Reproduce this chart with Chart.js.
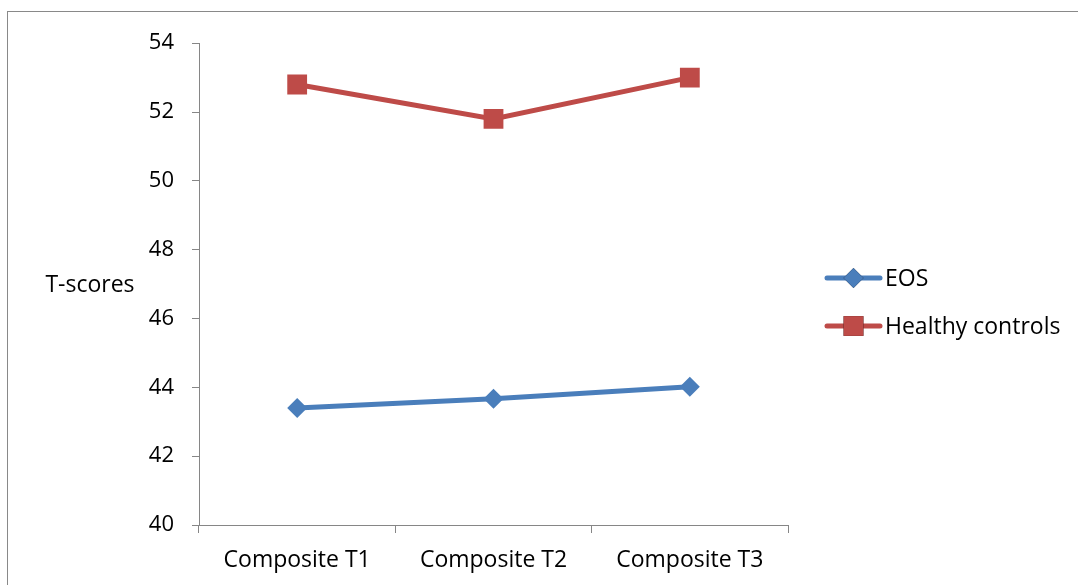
<!DOCTYPE html>
<html>
<head>
<meta charset="utf-8">
<script src="https://cdn.jsdelivr.net/npm/chart.js@4.4.0/dist/chart.umd.min.js"></script>
<style>
  body { margin: 0; background: #fff; overflow: hidden; }
  #box {
    position: absolute; left: 7px; top: 11px;
    width: 1070px; height: 590px;
    border: 1px solid #898989; background: #fff;
  }
</style>
</head>
<body>
<div id="box"><canvas id="chart"></canvas></div>
<script>
// Données du graphique
const categories = ['Composite T1', 'Composite T2', 'Composite T3'];
const eosValues = [43.4, 43.67, 44.02];
const controlValues = [52.8, 51.8, 53.0];
const seriesNames = ['EOS', 'Healthy controls'];
const yTicks = [40, 42, 44, 46, 48, 50, 52, 54];
const yTitle = 'T-scores';

const FONT = '"Open Sans", Lato, sans-serif';
const FONT_SIZE = 23;
const AXIS_GRAY = '#868686';

// Légende et titre de l'axe Y dessinés à la main (style Excel)
const excelExtras = {
    id: 'excelExtras',
    afterDraw(chart) {
        const ctx = chart.ctx;
        ctx.save();
        ctx.font = FONT_SIZE + 'px ' + FONT;
        ctx.fillStyle = '#000';
        ctx.textBaseline = 'middle';
        ctx.textAlign = 'center';
        ctx.fillText(yTitle, 82, 273);

        ctx.textAlign = 'left';
        chart.data.datasets.forEach((ds, i) => {
            const y = 266 + i * 48;
            ctx.strokeStyle = ds.borderColor;
            ctx.lineWidth = ds.borderWidth;
            ctx.lineCap = 'round';
            ctx.beginPath();
            ctx.moveTo(819, y);
            ctx.lineTo(872, y);
            ctx.stroke();
            Chart.helpers.drawPoint(ctx, {
                pointStyle: ds.pointStyle,
                radius: ds.pointRadius,
                rotation: 0,
                borderWidth: 0
            }, 845.5, y);
            ctx.fillStyle = ds.backgroundColor;
            ctx.fill();
            ctx.fillStyle = '#000';
            ctx.fillText(ds.label, 877, y + 1);
        });
        ctx.restore();
    }
};

new Chart(document.getElementById('chart'), {
    type: 'line',
    data: {
        labels: categories,
        datasets: [
            {
                label: seriesNames[0],
                data: eosValues,
                borderColor: '#4A7EBB',
                backgroundColor: '#4A7EBB',
                borderWidth: 5,
                pointStyle: 'rectRot',
                pointRadius: 10,
                pointBorderWidth: 0,
                tension: 0
            },
            {
                label: seriesNames[1],
                data: controlValues,
                borderColor: '#BE4B48',
                backgroundColor: '#BE4B48',
                borderWidth: 5,
                pointStyle: 'rect',
                pointRadius: 14,
                pointBorderWidth: 0,
                tension: 0
            }
        ]
    },
    options: {
        responsive: true,
        maintainAspectRatio: false,
        animation: false,
        layout: { padding: { left: 0, top: 29, right: 290, bottom: 17 } },
        plugins: {
            legend: { display: false },
            tooltip: { enabled: false }
        },
        scales: {
            x: {
                offset: true,
                afterFit: (s) => { s.height = 60; },
                grid: {
                    offset: true,
                    drawOnChartArea: false,
                    drawTicks: true,
                    tickLength: 8,
                    color: AXIS_GRAY
                },
                border: { display: true, color: AXIS_GRAY, width: 1 },
                ticks: {
                    color: '#000',
                    font: { family: FONT, size: FONT_SIZE },
                    padding: 14,
                    maxRotation: 0
                }
            },
            y: {
                min: 40,
                max: 54,
                afterFit: (s) => { s.width = 191; },
                afterBuildTicks: (s) => { s.ticks = yTicks.map(v => ({ value: v })); },
                grid: {
                    drawOnChartArea: false,
                    drawTicks: true,
                    tickLength: 7,
                    color: AXIS_GRAY
                },
                border: { display: true, color: AXIS_GRAY, width: 1 },
                ticks: {
                    color: '#000',
                    font: { family: FONT, size: 22 },
                    padding: 18
                }
            }
        }
    },
    plugins: [excelExtras]
});
</script>
</body>
</html>
